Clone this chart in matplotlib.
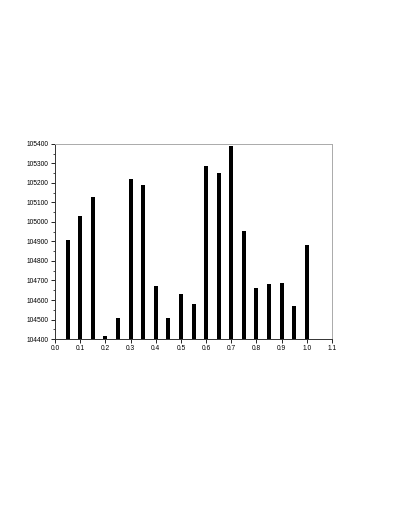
import matplotlib
matplotlib.use('Agg')
import matplotlib.pyplot as plt
import numpy as np
from matplotlib.ticker import MultipleLocator

# данные
x_pos = [0.05, 0.10, 0.15, 0.20, 0.25, 0.30, 0.35, 0.40, 0.45, 0.50,
         0.55, 0.60, 0.65, 0.70, 0.75, 0.80, 0.85, 0.90, 0.95, 1.00]
values = [104907, 105031, 105127, 104414, 104506, 105219, 105190, 104673, 104509, 104632,
          104581, 105287, 105253, 105390, 104955, 104663, 104680, 104687, 104571, 104884]
y_min = 104400

plt.rcParams['font.family'] = ['Liberation Sans', 'DejaVu Sans']

fig = plt.figure(figsize=(3.99, 5.16), dpi=100)
ax = fig.add_axes([0.138, 0.343, 0.694, 0.378])

heights = np.array(values) - y_min
ax.bar(x_pos, heights, bottom=y_min, width=0.016, color='black')

ax.set_xlim(0, 1.1)
ax.set_ylim(104400, 105400)
ax.set_xticks(np.arange(0, 1.11, 0.1))
ax.set_xticklabels([f'{v:.1f}' for v in np.arange(0, 1.11, 0.1)])
ax.yaxis.set_major_locator(MultipleLocator(100))
ax.yaxis.set_minor_locator(MultipleLocator(50))

ax.tick_params(axis='both', which='major', labelsize=4.8, length=3, width=0.6, direction='out', pad=1.5)
ax.tick_params(axis='y', which='minor', length=1.5, width=0.5, direction='out')

for side in ['top', 'right']:
    ax.spines[side].set_color('#aaaaaa')
    ax.spines[side].set_linewidth(0.7)
for side in ['left', 'bottom']:
    ax.spines[side].set_color('#333333')
    ax.spines[side].set_linewidth(0.7)

plt.savefig('out.png', dpi=100)
